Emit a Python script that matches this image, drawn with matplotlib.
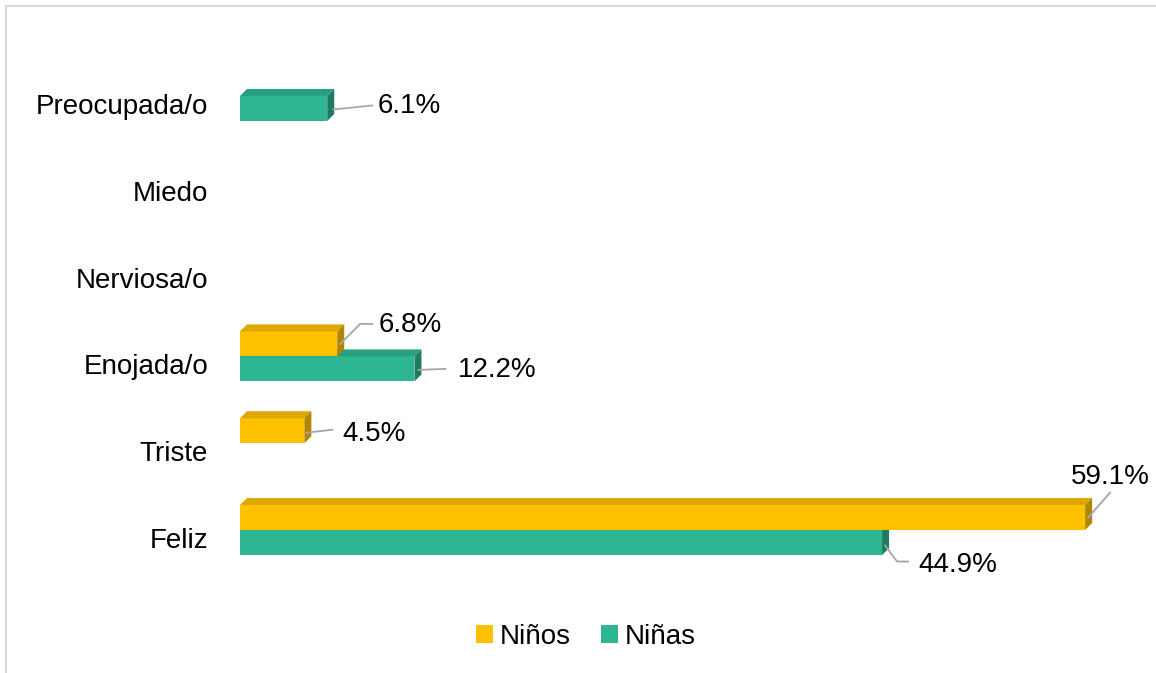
import numpy as np
import matplotlib
matplotlib.use('Agg')
import matplotlib.pyplot as plt
import matplotlib.transforms as mtransforms
from matplotlib.patches import Polygon, Patch
from matplotlib.lines import Line2D

plt.rcParams['font.family'] = ['Liberation Sans', 'DejaVu Sans']

# Data (bottom to top)
categories = ['Feliz', 'Triste', 'Enojada/o', 'Nerviosa/o', 'Miedo', 'Preocupada/o']
ninos = [59.1, 4.5, 6.8, 0, 0, 0]
ninas = [44.9, 0, 12.2, 0, 0, 6.1]
series_names = ['Niños', 'Niñas']

# colours: front, top, side
colors = {
    'Niños': ('#FFC000', '#DEA700', '#B08600'),
    'Niñas': ('#2EB592', '#27A07F', '#1F7A61'),
}

# leader line vertices and text offsets, pixels from (bar end, bar centre)
leaders = {
    ('Niñas', 'Preocupada/o'): ([(6, -1), (45, 3)], (50, 2)),
    ('Niños', 'Enojada/o'): ([(3, 0), (23, 20), (35, 20)], (41, 19)),
    ('Niñas', 'Enojada/o'): ([(4, -1), (31, 0)], (43, -1)),
    ('Niños', 'Triste'): ([(2, -2), (28, 1)], (38, -3)),
    ('Niños', 'Feliz'): ([(3, 0), (25, 25)], (-14, 41)),
    ('Niñas', 'Feliz'): ([(3, -3), (15, -19), (26, -19)], (36, -22)),
}

W, H, DPI = 1156, 673, 100
FS = 20
fig = plt.figure(figsize=(W / DPI, H / DPI), dpi=DPI)

XMAX = 62
ax_left, ax_right = 240, 240 + XMAX * 14.3
ax_top, ax_bottom = 35.2, 590.8
ax = fig.add_axes([ax_left / W, 1 - ax_bottom / H, (ax_right - ax_left) / W, (ax_bottom - ax_top) / H])
ax.set_xlim(0, XMAX)
ax.set_ylim(-0.7, len(categories) - 1 + 0.7)

px_x = (ax_right - ax_left) / XMAX
px_y = (ax_bottom - ax_top) / (len(categories) - 1 + 1.4)
bar_h = 25 / px_y
dx = 7 / px_x
dy = 7 / px_y


def draw_bar(y0, val, name, z):
    front, top, side = colors[name]
    y1 = y0 + bar_h
    ax.add_patch(Polygon([(0, y0), (val, y0), (val, y1), (0, y1)], closed=True,
                         facecolor=front, edgecolor='none', zorder=z))
    ax.add_patch(Polygon([(0, y1), (val, y1), (val + dx, y1 + dy), (dx, y1 + dy)], closed=True,
                         facecolor=top, edgecolor='none', zorder=z))
    ax.add_patch(Polygon([(val, y0), (val + dx, y0 + dy), (val + dx, y1 + dy), (val, y1)], closed=True,
                         facecolor=side, edgecolor='none', zorder=z))


for i, cat in enumerate(categories):
    for name, vals, y0, z in [('Niñas', ninas, i - bar_h, 2), ('Niños', ninos, i, 3)]:
        v = vals[i]
        if v <= 0:
            continue
        draw_bar(y0, v, name, z)
        yc = y0 + bar_h / 2
        pts, toff = leaders[(name, cat)]
        trans = mtransforms.ScaledTranslation(v, yc, ax.transData)
        xs, ys = zip(*pts)
        ax.add_line(Line2D(xs, ys, transform=trans, color='#A6A6A6', lw=1.3,
                           clip_on=False, zorder=4))
        ax.annotate(f'{v:.1f}%', xy=(v, yc), xytext=toff, textcoords='offset pixels',
                    ha='left', va='center', fontsize=FS, color='#000000', zorder=5)

# category labels sit a little below the bar pairs
ax.set_yticks(np.arange(len(categories)) - 8 / px_y)
ax.set_yticklabels(categories, fontsize=FS, color='#000000')
ax.tick_params(axis='y', length=0, pad=23)
ax.set_xticks([])
for s in ax.spines.values():
    s.set_visible(False)

handles = [Patch(facecolor=colors[n][0], edgecolor='none', label=n) for n in series_names]
fig.legend(handles=handles, loc='center', bbox_to_anchor=(586 / W, 1 - 637 / H), ncol=2,
           frameon=False, fontsize=FS, handlelength=0.6, handleheight=0.6,
           handletextpad=0.25, columnspacing=1.1)

# chart area border (top and left visible)
fig.add_artist(Line2D([6 / W, 1], [1 - 6 / H, 1 - 6 / H], transform=fig.transFigure,
                      color='#D9D9D9', lw=1.5))
fig.add_artist(Line2D([6 / W, 6 / W], [0, 1 - 6 / H], transform=fig.transFigure,
                      color='#D9D9D9', lw=1.5))

fig.savefig('out.png', dpi=DPI, facecolor='white')
